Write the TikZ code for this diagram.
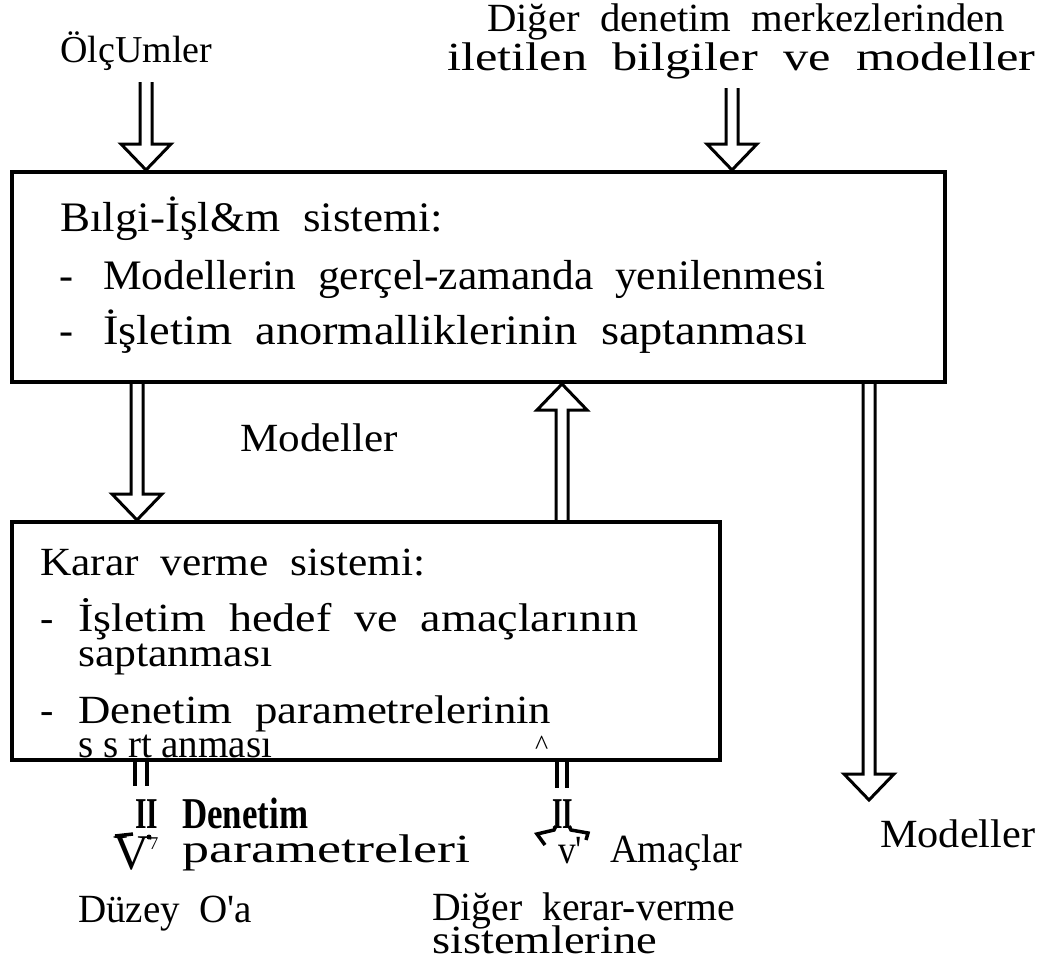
\documentclass[tikz,border=0pt]{standalone}
\usepackage{fontspec}
\setmainfont{Liberation Serif}
\usepackage{graphicx}
\usetikzlibrary{calc}
\newcommand\fitw[2]{\resizebox{#1pt}{\height}{#2}}
\newcommand\ArrDown[2]{%
  \draw[hollow] let \p1=(#1), \p2=(#2) in
    (\x2-6pt,\y1) -- (\x2-6pt,\y2+26pt) -- (\x2-25pt,\y2+26pt) -- (\x2,\y2)
    -- (\x2+25pt,\y2+26pt) -- (\x2+6pt,\y2+26pt) -- (\x2+6pt,\y1);}
\newcommand\ArrUp[2]{%
  \draw[hollow] let \p1=(#1), \p2=(#2) in
    (\x2-6pt,\y1) -- (\x2-6pt,\y2-26pt) -- (\x2-25pt,\y2-26pt) -- (\x2,\y2)
    -- (\x2+25pt,\y2-26pt) -- (\x2+6pt,\y2-26pt) -- (\x2+6pt,\y1);}
\begin{document}
\begin{tikzpicture}[x=1pt,y=-1pt,
  box/.style={draw, line width=4pt, inner sep=0pt},
  lbl/.style={anchor=base west, inner sep=0pt, font=\fontsize{40}{46}\selectfont},
  big/.style={lbl, font=\fontsize{42}{48}\selectfont},
  bold/.style={lbl, font=\fontsize{44}{48}\selectfont\bfseries},
  hollow/.style={line width=3pt, line join=miter, line cap=butt},
  frag/.style={line width=3.5pt, line cap=butt}]
\useasboundingbox (0,0) rectangle (1040,961);
\fill[white] (0,0) rectangle (1040,961);

% boxes
\node[box, minimum width=933pt, minimum height=210pt] (info) at (478.5,277) {};
\node[box, minimum width=708pt, minimum height=238pt] (karar) at (366,641) {};

% top labels
\node[lbl, font=\fontsize{38}{44}\selectfont] (olc) at (60,62) {\fitw{152}{ÖlçUmler}};
\node[lbl] (dig1) at (487,31) {\fitw{518}{Diğer\ \ denetim\ \ merkezlerinden}};
\node[lbl] (dig2) at (447,70) {\fitw{588}{iletilen\ \ bilgiler\ \ ve\ \ modeller}};

% info box text
\node[big] (i1) at (60,231) {\fitw{383}{Bılgi-İşl\&m\ \ sistemi:}};
\node[big] (d1) at (59,289) {-};
\node[big] (i2) at (103,289) {\fitw{722}{Modellerin\ \ gerçel-zamanda\ \ yenilenmesi}};
\node[big] (d2) at (59,344) {-};
\node[big] (i3) at (103,344) {\fitw{704}{İşletim\ \ anormalliklerinin\ \ saptanması}};

% middle label
\node[lbl] (mod1) at (240,451) {\fitw{158}{Modeller}};

% karar box text
\node[lbl] (k1) at (40,575) {\fitw{385}{Karar\ \ verme\ \ sistemi:}};
\node[lbl] (d3) at (40,631) {-};
\node[lbl] (k2) at (78,631) {\fitw{560}{İşletim\ \ hedef\ \ ve\ \ amaçlarının}};
\node[lbl] (k3) at (78,666) {\fitw{194}{saptanması}};
\node[lbl] (d4) at (40,723) {-};
\node[lbl] (k4) at (78,723) {\fitw{473}{Denetim\ \ parametrelerinin}};
\node[lbl] (k5) at (78,757) {\fitw{194}{s s rt anması}};
\node[lbl, font=\fontsize{28}{30}\selectfont] (hat) at (535,754) {\^{}};

% arrows between nodes
\coordinate (c1) at (146,82);
\ArrDown{c1}{c1 |- info.north}
\coordinate (c2) at (732,88);
\ArrDown{c2}{c2 |- info.north}
\coordinate (c3) at (137,0);
\ArrDown{c3 |- info.south}{c3 |- karar.north}
\coordinate (c4) at (562,0);
\ArrUp{c4 |- karar.north}{c4 |- info.south}
\coordinate (c5) at (869,800);
\ArrDown{c5 |- info.south}{c5}

% right label
\node[lbl] (mod2) at (880,847) {\fitw{155}{Modeller}};

% left broken output arrow
\coordinate (c6) at (141,785);
\draw[frag] ($(c6 |- karar.south)+(-6,0)$) -- ++(0,24);
\draw[frag] ($(c6 |- karar.south)+(6,0)$) -- ++(0,24);
\node[bold] (den) at (135,828) {\fitw{23}{II}\hspace{24pt}\fitw{126}{Denetim}};
\draw[frag] (115,836) -- (133,834);
\fill (149,837) circle (2.5pt);
\node[lbl, font=\fontsize{50}{54}\selectfont] (vv) at (113,869) {V\raisebox{20pt}{\fontsize{18}{20}\selectfont 7}};
\node[lbl] (par) at (182,862) {\fitw{288}{parametreleri}};
\node[lbl] (duz) at (78,922) {\fitw{174}{Düzey\ \ O\textquotesingle a}};

% right broken output arrow
\coordinate (c7) at (562,785);
\draw[frag] ($(c7 |- karar.south)+(-5,0)$) -- ++(0,26);
\draw[frag] ($(c7 |- karar.south)+(5,0)$) -- ++(0,26);
\node[lbl, font=\fontsize{44}{48}\selectfont\bfseries] (ii) at (552,828) {\fitw{21}{II}};
\draw[frag] (545,845) -- (537,834) -- (554,830) -- (556,826);
\draw[frag] (569,826) -- (571,830) -- (588,833) -- (586,840);
\node[lbl] (vp) at (558,863) {\fitw{24}{v\textquotesingle}};
\node[lbl] (ama) at (610,862) {\fitw{132}{Amaçlar}};
\node[lbl] (dk1) at (432,920) {\fitw{303}{Diğer\ \ kerar-verme}};
\node[lbl] (dk2) at (432,953) {\fitw{225}{sistemlerine}};
\end{tikzpicture}
\end{document}
